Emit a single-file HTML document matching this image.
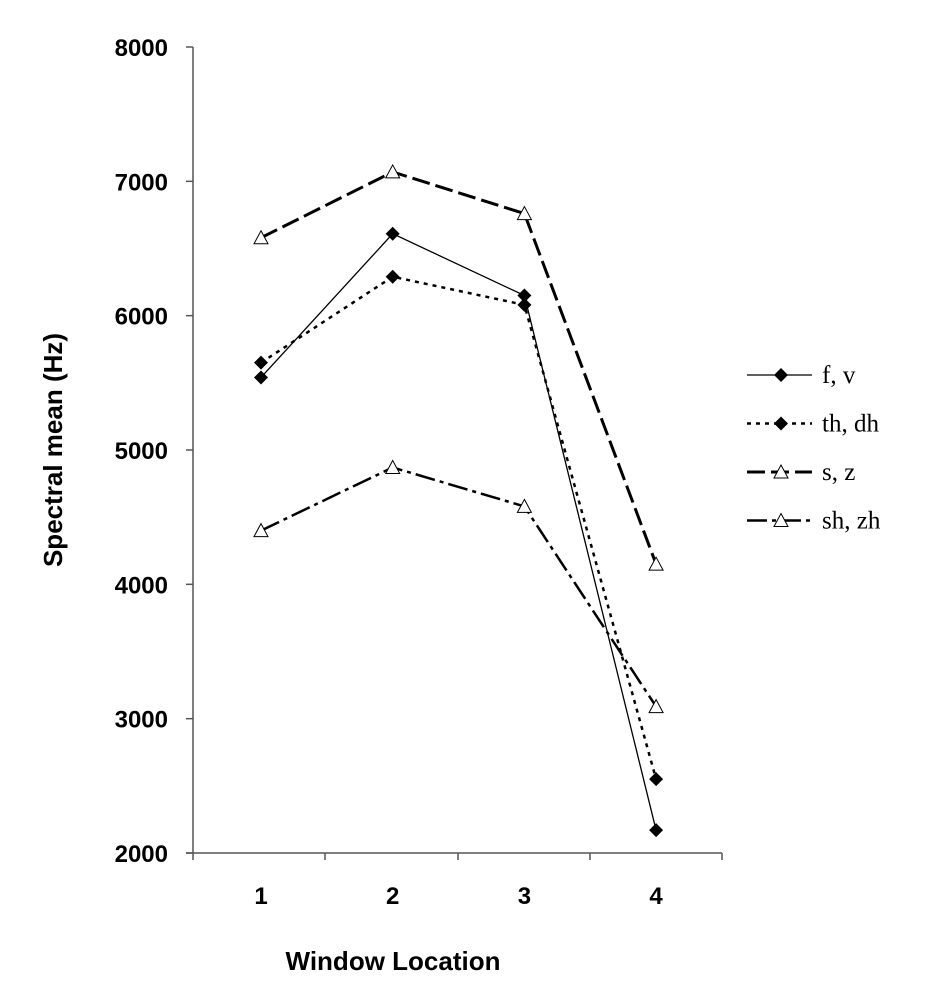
<!DOCTYPE html>
<html><head><meta charset="utf-8"><style>
body{margin:0;background:#fff}
svg{display:block}
</style></head><body>
<svg id="c" width="942" height="992" xmlns="http://www.w3.org/2000/svg">
<g id="axes"></g><g id="series"></g><g id="legend"></g>
<text x="393" y="970" text-anchor="middle" font-family="Liberation Sans, sans-serif" font-weight="bold" font-size="26">Window Location</text>
<text transform="translate(62,450) rotate(-90)" text-anchor="middle" font-family="Liberation Sans, sans-serif" font-weight="bold" font-size="26">Spectral mean (Hz)</text>
</svg>
<script>
const categories=["1","2","3","4"];
const yTicks=[2000,3000,4000,5000,6000,7000,8000];
const fv=[5540,6610,6150,2170];
const thdh=[5650,6290,6080,2550];
const sz=[6580,7070,6760,4150];
const shzh=[4400,4870,4580,3090];
const seriesNames=["f, v","th, dh","s, z","sh, zh"];
const NS="http://www.w3.org/2000/svg";
function y(v){return 853-(v-2000)*(806/6000);}
function x(i){return 261+i*131.7;}
function mk(tag,attrs,parent){const e=document.createElementNS(NS,tag);for(const k in attrs)e.setAttribute(k,attrs[k]);parent.appendChild(e);return e;}
const axes=document.getElementById('axes');
let a=mk('line',{x1:193,y1:47,x2:193,y2:853,stroke:'#555','stroke-width':1.5},axes);


a=mk('line',{x1:186,y1:853,x2:722,y2:853,stroke:'#555','stroke-width':1.5},axes);


yTicks.forEach(v=>{
 mk('line',{x1:186,y1:y(v),x2:193,y2:y(v),stroke:'#555','stroke-width':1.5},axes);
 const t=mk('text',{x:168,y:y(v)+9,'text-anchor':'end','font-family':'Liberation Sans, sans-serif','font-weight':'bold','font-size':24},axes);
 t.textContent=v;
 
 
});
[193,325,458,590,722].forEach(px=>mk('line',{x1:px,y1:853,x2:px,y2:860,stroke:'#555','stroke-width':1.5},axes));
categories.forEach((c,i)=>{
 const t=mk('text',{x:x(i),y:904,'text-anchor':'middle','font-family':'Liberation Sans, sans-serif','font-weight':'bold','font-size':24},axes);
 t.textContent=c;
 
 
});
const styles=[
 {d:fv,dash:'',w:1.3,m:'diamond'},
 {d:thdh,dash:'4,5',w:2.5,m:'diamond'},
 {d:sz,dash:'18,6',w:3,m:'tri'},
 {d:shzh,dash:'20,5,4,5',w:2.5,m:'tri'}];
const sg=document.getElementById('series');
function marker(kind,cx,cy,g){
 if(kind==='diamond')return mk('polygon',{points:`${cx},${cy-7} ${cx+7},${cy} ${cx},${cy+7} ${cx-7},${cy}`,fill:'#000'},g);
 return mk('polygon',{points:`${cx},${cy-7} ${cx+7},${cy+6} ${cx-7},${cy+6}`,fill:'#fff',stroke:'#000','stroke-width':1},g);
}
styles.forEach((s,si)=>{
 const g=mk('g',{},sg);
 
 
 mk('polyline',{points:s.d.map((v,i)=>x(i)+','+y(v)).join(' '),fill:'none',stroke:'#000','stroke-width':s.w,'stroke-dasharray':s.dash},g);
 s.d.forEach((v,i)=>{const m=marker(s.m,x(i),y(v),g);
  
  });
});
const lg=document.getElementById('legend');
styles.forEach((s,si)=>{
 const ly=375+si*48.5;
 const g=mk('g',{},lg);
 
 
 mk('line',{x1:747,y1:ly,x2:812,y2:ly,stroke:'#000','stroke-width':s.w,'stroke-dasharray':s.dash},g);
 marker(s.m,781,ly,g);
 const t=mk('text',{x:822,y:ly+8,'font-family':'Liberation Serif, serif','font-size':25},g);
 t.textContent=seriesNames[si];
});
</script>
</body></html>
